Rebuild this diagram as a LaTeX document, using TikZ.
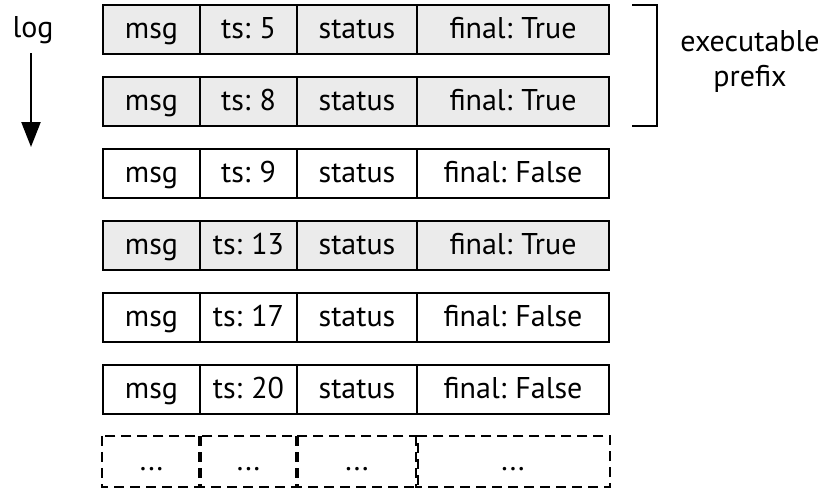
\documentclass[tikz,border=0pt]{standalone}
\usepackage{fontspec}
\setmainfont{PT Sans}[WordSpace=0.8]
\usetikzlibrary{arrows.meta}
\definecolor{cellgray}{RGB}{235,235,235}
\tikzset{
  cell/.style={draw=black, line width=2.4pt, inner sep=0pt, minimum height=49pt,
               text height=25pt, text depth=7pt,
               font=\fontsize{30}{34}\selectfont, anchor=center},
  done/.style={fill=cellgray},
  open/.style={fill=white},
  pending/.style={draw=black, line width=2.4pt, dash pattern=on 10pt off 6pt},
  lbl/.style={font=\fontsize{30}{35}\selectfont, inner sep=0pt, align=center},
  bracket/.style={draw=black, line width=2.4pt},
  flow/.style={draw=black, line width=2.4pt, -{Triangle[width=19pt,length=25pt]}}
}
\begin{document}
\begin{tikzpicture}[x=1pt,y=-1pt]
\useasboundingbox (0,0) rectangle (829,493);

% log entries: row index / fill style / timestamp / final flag
\foreach \r/\st/\ts/\fin in {0/done/5/True, 1/done/8/True, 2/open/9/False,
                             3/done/13/True, 4/open/17/False, 5/open/20/False}{
  \pgfmathsetmacro{\yy}{29.5+72*\r}
  \node[cell,\st,minimum width=97pt]  (msg\r) at (151.5,\yy) {msg};
  \node[cell,\st,minimum width=97pt]  (ts\r)  at (248.5,\yy) {ts: \ts};
  \node[cell,\st,minimum width=120pt] (st\r)  at (357,\yy)   {status};
  \node[cell,\st,minimum width=192pt] (fin\r) at (513,\yy)   {final: \fin};
}

% further entries, not yet known
\node[cell,draw=none,minimum width=97pt]  (msg6) at (151.5,461.5) {...};
\node[cell,draw=none,minimum width=97pt]  (ts6)  at (248.5,461.5) {...};
\node[cell,draw=none,minimum width=120pt] (st6)  at (357,461.5)   {...};
\node[cell,draw=none,minimum width=192pt] (fin6) at (513,461.5)   {...};
\foreach \n in {msg6,ts6,st6,fin6}{
  \draw[pending] (\n.north west) rectangle (\n.south east);
}

% direction of the log
\node[lbl] (log) at (33,30) {log};
\coordinate (logend) at (31,147);
\draw[flow] (31,53) -- (logend);

% executable prefix bracket
\coordinate (bt) at (632,5);
\coordinate (bb) at (632,126);
\draw[bracket] (bt) -- (657,5) -- (657,126) -- (bb);
\node[lbl] (prefix) at (750,61) {executable\\prefix};
\end{tikzpicture}
\end{document}
